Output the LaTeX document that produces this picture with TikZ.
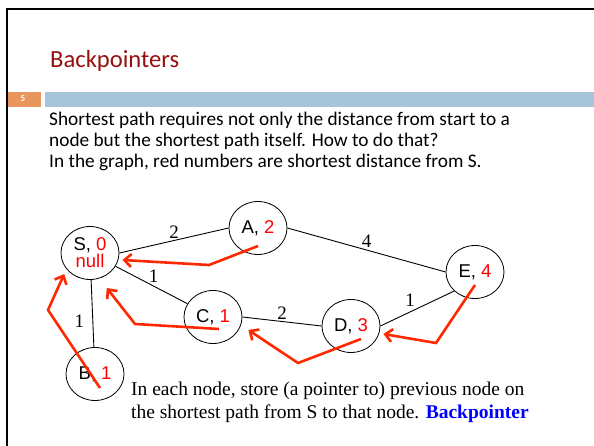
\documentclass[tikz,border=0pt]{standalone}
\usepackage{fontspec}
\setmainfont{Liberation Serif}
\newfontfamily\slidefont{Carlito}
\newfontfamily\vertexfont{Liberation Sans}
\usetikzlibrary{shapes.geometric,arrows.meta,calc}

\definecolor{titlered}{RGB}{150,16,16}
\definecolor{barblue}{RGB}{166,196,218}
\definecolor{barorange}{RGB}{232,150,92}
\definecolor{ptrred}{RGB}{255,40,0}
\definecolor{numred}{RGB}{255,0,0}

\tikzset{
  vertex/.style={ellipse, draw, line width=0.8pt, minimum width=58pt, minimum height=53pt,
    inner sep=0pt, font=\vertexfont\fontsize{18.5}{20}\selectfont},
  wedge/.style={line width=0.9pt},
  wlabel/.style={font=\fontsize{19}{20}\selectfont, inner sep=2pt},
  backptr/.style={ptrred, line width=2.6pt, -{Straight Barb[length=7pt,width=13pt]}},
  slidetext/.style={anchor=base west, inner sep=0pt, font=\slidefont\fontsize{19.3}{21}\selectfont},
  notetext/.style={anchor=base west, inner sep=0pt, font=\fontsize{19.5}{23}\selectfont},
}

\begin{document}
\begin{tikzpicture}[x=1pt,y=-1pt]
    \useasboundingbox (0,0) rectangle (594,446);

    % slide frame and header
    \draw[line width=2pt] (6.5,446) -- (6.5,9.5) -- (594,9.5);
    \node[anchor=base west, inner sep=0pt, text=titlered, font=\slidefont\fontsize{24.6}{26}\selectfont] (title) at (50,68) {Backpointers};
    \fill[barorange] (7.5,92) rectangle (41,107);
    \fill[barblue] (45,92) rectangle (594,107);
    \node[text=white, font=\slidefont\bfseries\fontsize{9}{10}\selectfont, inner sep=0pt] (pagenum) at (23,99) {5};

    % slide text
    \node[slidetext] (lineA) at (49,126) {Shortest path requires not only the distance from start to a};
    \node[slidetext] (lineB) at (49,147) {node but the shortest path itself. How to do that?};
    \node[slidetext] (lineC) at (49,168) {In the graph, red numbers are shortest distance from S.};

    % the graph
    \node[vertex, align=center] (S) at (90,253) {S, \textcolor{numred}{0}\\[-3pt]\textcolor{numred}{null}};
    \node[vertex] (A) at (258,228) {A, \textcolor{numred}{2}};
    \node[vertex] (C) at (213,317) {C, \textcolor{numred}{1}};
    \node[vertex] (B) at (95,374) {B, \textcolor{numred}{1}};
    \node[vertex] (D) at (351,326) {D, \textcolor{numred}{3}};
    \node[vertex] (E) at (475,272) {E, \textcolor{numred}{4}};

    \draw[wedge] (S.east) -- node[wlabel, above] (wSA) {2} (A.west);
    \draw[wedge] (A.east) -- node[wlabel, above] (wAE) {4} (E.west);
    \draw[wedge] (S) -- node[wlabel, above, xshift=2pt] (wSC) {1} (C);
    \draw[wedge] (C.east) -- node[wlabel, above] (wCD) {2} (D.west);
    \draw[wedge] (D.east) -- node[wlabel, above left] (wDE) {1} (E.south west);
    \draw[wedge] (S) -- node[wlabel, left, xshift=-6pt, yshift=-8pt] (wSB) {1} (B);

    % backpointers
    \draw[backptr] ($(A)+(0,18)$) -- (209,265) -- ($(S.east)+(3,7)$);
    \draw[backptr] ($(C)+(6,12)$) -- (135,324) -- ($(S.south east)+(-4,16)$);
    \draw[backptr] ($(B)+(5,14)$) -- (48,310) -- ($(S.south west)+(-5,2)$);
    \draw[backptr] ($(D)+(10,13)$) -- (298,363) -- ($(C.east)+(6,13)$);
    \draw[backptr] ($(E)+(0,13)$) -- (436,343) -- ($(D.east)+(3,8)$);

    % note
    \node[notetext] (noteA) at (131,395) {In each node, store (a pointer to) previous node on};
    \node[notetext] (noteB) at (131,418) {the shortest path from S to that node. \textcolor{blue}{\bfseries Backpointer}};
\end{tikzpicture}
\end{document}
